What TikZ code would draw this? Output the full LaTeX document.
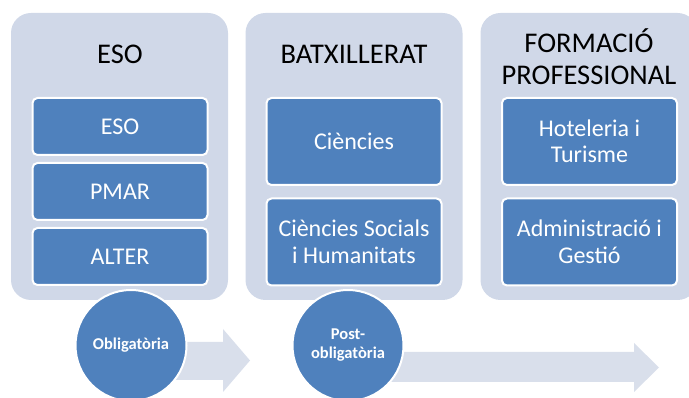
\documentclass[tikz,border=0pt]{standalone}
\usepackage{fontspec}
\setmainfont{Carlito}
\usetikzlibrary{positioning}
\definecolor{pale}{HTML}{D0D8E8}
\definecolor{paler}{HTML}{D9DFEB}
\definecolor{accent}{HTML}{4F81BD}
\tikzset{
	panel/.style={fill=pale, rounded corners=20pt, minimum width=217pt, minimum height=287pt, inner sep=0pt},
	heading/.style={align=center, font=\fontsize{28.5}{32}\selectfont},
	subbox/.style={fill=accent, draw=white, line width=2pt, rounded corners=5pt, minimum width=175pt, text=white, align=center, font=\fontsize{24}{26.5}\selectfont, inner sep=0pt},
	stage/.style={circle, fill=accent, draw=white, line width=2pt, minimum size=111pt, text=white, align=center, font=\fontsize{16.5}{19}\selectfont\bfseries, inner sep=0pt},
	flow/.style={fill=paler}
}
\begin{document}
\begin{tikzpicture}[x=1pt, y=-1pt]
			%%%%% START %%%%%
			\useasboundingbox (0, 0) rectangle (689, 398);
			\clip (0, 0) rectangle (689, 398);
			
			\node[panel] (pnlEso) at (119.5, 156.5) {};
			\node[panel] (pnlBat) at (354, 156.5) {};
			\node[panel] (pnlFp) at (589, 156.5) {};
			
			\node[heading, anchor=base] (hdEso) at (120, 64) {ESO};
			\node[heading, anchor=base] (hdBat) at (354, 64) {BATXILLERAT};
			\node[heading] (hdFp) at (589, 57) {FORMACIÓ\\PROFESSIONAL};
			
			\node[subbox, minimum height=57pt] (eso) at (120, 126.5) {ESO};
			\node[subbox, minimum height=57pt] (pmar) at (120, 191.5) {PMAR};
			\node[subbox, minimum height=57pt] (alter) at (120, 256.5) {ALTER};
			
			\node[subbox, minimum height=87pt] (cien) at (354, 141.5) {Ciències};
			\node[subbox, minimum height=87pt] (socials) at (354, 242) {Ciències Socials\\i Humanitats};
			
			\node[subbox, minimum height=87pt] (hotel) at (589.5, 141.5) {Hoteleria i\\Turisme};
			\node[subbox, minimum height=87pt] (admin) at (589.5, 242) {Administració i\\Gestió};
			
			\fill[flow] (170, 342) -- (223, 342) -- (223, 329) -- (250, 360.5) -- (223, 392) -- (223, 380) -- (170, 380) -- cycle;
			\fill[flow] (390, 352) -- (634, 352) -- (634, 343) -- (659, 367.5) -- (634, 392) -- (634, 382) -- (390, 382) -- cycle;
			
			\node[stage] (oblig) at (131, 345.5) {Obligatòria};
			\node[stage] (post) at (348, 345.5) {Post-\\obligatòria};
			%%%%% END %%%%%
\end{tikzpicture}
\end{document}
